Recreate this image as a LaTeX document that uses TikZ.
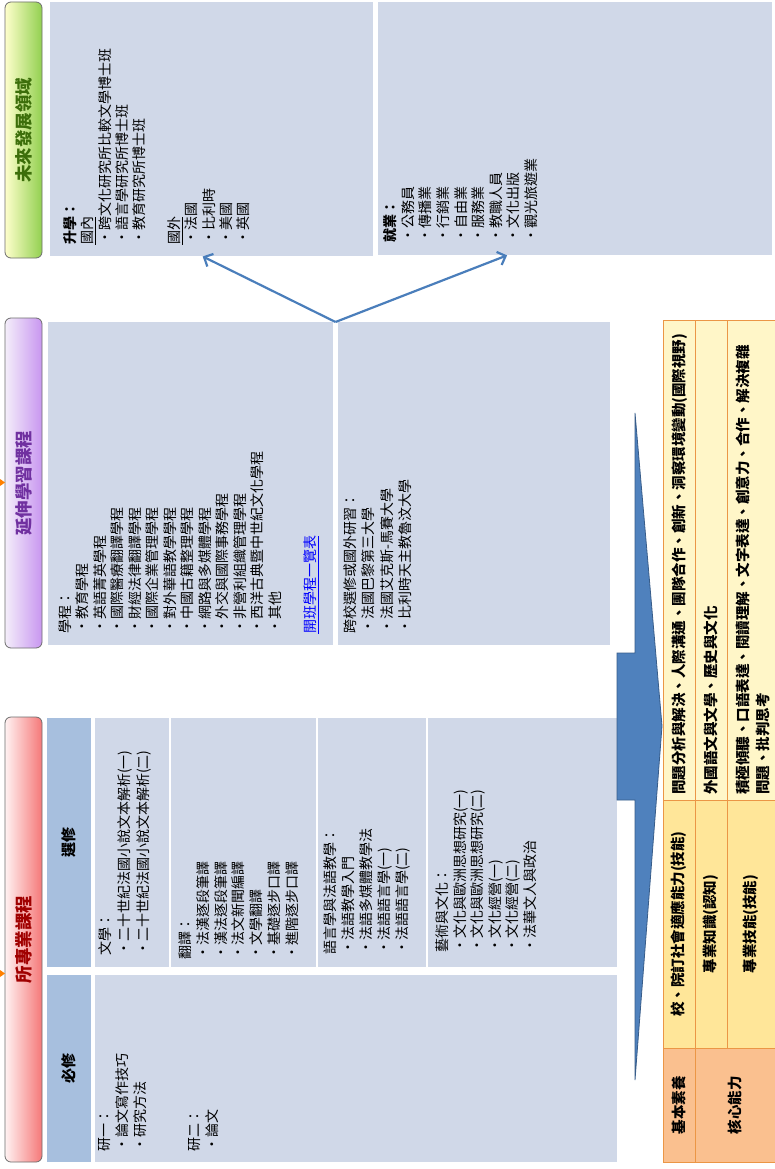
\documentclass[tikz,border=0pt]{standalone}
\usepackage{fontspec}
\setmainfont{Noto Sans CJK TC}
\usetikzlibrary{arrows.meta,calc}
\definecolor{lbox}{RGB}{208,216,232}
\definecolor{hbox}{RGB}{167,191,222}
\definecolor{arrowblue}{RGB}{79,129,189}
\definecolor{arrowedge}{RGB}{56,93,138}
\definecolor{connblue}{RGB}{74,126,187}
\definecolor{tyellow}{RGB}{255,246,200}
\definecolor{tgold}{RGB}{255,230,153}
\definecolor{torange}{RGB}{250,192,143}
\definecolor{tborder}{RGB}{235,150,70}
\definecolor{greenL}{RGB}{255,255,204}
\definecolor{greenR}{RGB}{146,208,80}
\definecolor{greenT}{RGB}{60,110,10}
\definecolor{purpL}{RGB}{244,238,250}
\definecolor{purpR}{RGB}{200,150,240}
\definecolor{purpT}{RGB}{112,48,160}
\definecolor{redL}{RGB}{255,242,242}
\definecolor{redR}{RGB}{245,120,120}
\definecolor{redT}{RGB}{160,0,0}
\definecolor{linkblue}{RGB}{0,0,255}
\definecolor{pillborder}{RGB}{110,110,110}
\begin{document}
\begin{tikzpicture}[x=1pt,y=-1pt,
  boxwh/.style 2 args={minimum width=#1pt, minimum height=#2pt},
  region/.style={fill=lbox, draw=none, inner sep=0pt, outer sep=0pt, anchor=north west},
  hdrbox/.style={fill=hbox, draw=none, inner sep=0pt, outer sep=0pt, anchor=north west},
  pill/.style={draw=pillborder, line width=0.8pt, rounded corners=6pt, inner sep=0pt, outer sep=0pt, anchor=north west},
  pilltxt/.style={rotate=90, inner sep=0pt, font=\bfseries\fontsize{17.5}{20}\selectfont},
  subhdr/.style={rotate=90, inner sep=0pt, font=\bfseries\fontsize{15}{18}\selectfont},
  txt/.style={rotate=90, anchor=north west, align=left, inner sep=0pt, font=\fontsize{14}{17.6}\selectfont},
  cell/.style={draw=tborder, line width=0.8pt, inner sep=0pt, outer sep=0pt, anchor=north west},
  ttxt/.style={rotate=90, inner sep=0pt, font=\bfseries\fontsize{14.5}{19}\selectfont},
  ttxtL/.style={rotate=90, anchor=north west, align=left, inner sep=0pt, font=\bfseries\fontsize{14.5}{19.5}\selectfont},
  conn/.style={draw=connblue, line width=2.2pt, -{Straight Barb[length=7pt,width=14pt]}, shorten >=1pt}
]
\fill[white] (0,0) rectangle (775,1169);
\useasboundingbox (0,0) rectangle (775,1169);

% ---------- header pills ----------
\node[pill, left color=greenL, right color=greenR, boxwh={37}{256}] (pFuture) at (5,2) {};
\node[pilltxt, text=greenT] (pFutureT) at (pFuture.center) {未來發展領域};
\node[pill, left color=purpL, right color=purpR, boxwh={37}{330}] (pExt) at (5,318) {};
\node[pilltxt, text=purpT] (pExtT) at (pExt.center) {延伸學習課程};
\node[pill, left color=redL, right color=redR, boxwh={37}{445}] (pPro) at (5,717) {};
\node[pilltxt, text=redT] (pProT) at (pPro.center) {所專業課程};
\fill[orange] (0,479) -- (5,482.5) -- (0,486) -- cycle;
\fill[orange] (0,970) -- (5,973.5) -- (0,977) -- cycle;

% ---------- future boxes ----------
\node[region, boxwh={323}{254}] (shengxue) at (50,2) {};
\node[region, boxwh={394}{253}] (jiuye) at (378,2) {};
\node[txt, font=\fontsize{14}{17.3}\selectfont] (shengxueT) at (63.5,245) {\textbf{升學：}\\
\underline{國內}\\
・跨文化研究所比較文學博士班\\
・語言學研究所博士班\\
・教育研究所博士班\\
\mbox{}\\
\underline{國外}\\
・法國\\
・比利時\\
・美國\\
・英國};
\node[txt, font=\fontsize{14}{17.6}\selectfont] (jiuyeT) at (383.5,243) {\textbf{就業：}\\
・公務員\\
・傳播業\\
・行銷業\\
・自由業\\
・服務業\\
・教職人員\\
・文化出版\\
・觀光旅遊業};

% ---------- extension boxes ----------
\node[region, boxwh={285}{323}] (xuecheng) at (48,322) {};
\node[region, boxwh={272}{323}] (kuaxiao) at (338,322) {};
\node[txt, font=\fontsize{14}{17.5}\selectfont] (xuechengT) at (58.5,634) {學程：\\
・教育學程\\
・英語菁英學程\\
・國際醫療翻譯學程\\
・財經法律翻譯學程\\
・國際企業管理學程\\
・對外華語教學學程\\
・中國古籍整理學程\\
・網路與多媒體學程\\
・外交與國際事務學程\\
・非營利組織管理學程\\
・西洋古典暨中世紀文化學程\\
・其他\\
\mbox{}\\
{\color{linkblue}\underline{開班學程一覽表}}};
\node[txt, font=\fontsize{14}{18.3}\selectfont] (kuaxiaoT) at (343.5,634) {跨校選修或國外研習：\\
・法國巴黎第三大學\\
・法國艾克斯-馬賽大學\\
・比利時天主教魯汶大學};

% ---------- connectors ----------
\coordinate (fork) at ($(xuecheng.north east)!0.5!(kuaxiao.north west)$);
\draw[conn] (fork) -- ($(shengxue.south west)!0.47!(shengxue.south east)$);
\draw[conn] (fork) -- ($(jiuye.south west)!0.33!(jiuye.south east)$);

% ---------- professional courses ----------
\node[hdrbox, boxwh={44}{249}] (xuanxiuH) at (47,718) {};
\node[subhdr] (xuanxiuHT) at (xuanxiuH.center) {選修};
\node[hdrbox, boxwh={44}{187}] (bixiuH) at (47,975) {};
\node[subhdr] (bixiuHT) at (bixiuH.center) {必修};

\node[region, boxwh={522}{187}] (bixiu) at (95,975) {};
\node[region, boxwh={74}{249}] (wenxue) at (95,718) {};
\node[region, boxwh={145}{249}] (fanyi) at (171,718) {};
\node[region, boxwh={108}{249}] (yuyan) at (318,718) {};
\node[region, boxwh={189}{249}] (yishu) at (428,718) {};

\node[txt, font=\fontsize{14}{18}\selectfont] (bixiuT) at (98.5,1152) {研一：\\
・論文寫作技巧\\
・研究方法\\
\mbox{}\\
\mbox{}\\
研二：\\
・論文};
\node[txt, font=\fontsize{14}{19}\selectfont] (wenxueT) at (98.5,956) {文學：\\
・二十世紀法國小說文本解析(一)\\
・二十世紀法國小說文本解析(二)};
\node[txt, font=\fontsize{14}{17.8}\selectfont] (fanyiT) at (178.5,960) {翻譯：\\
・法漢逐段筆譯\\
・漢法逐段筆譯\\
・法文新聞編譯\\
・文學翻譯\\
・基礎逐步口譯\\
・進階逐步口譯};
\node[txt, font=\fontsize{14}{17.9}\selectfont] (yuyanT) at (323.5,955) {語言學與法語教學：\\
・法語教學入門\\
・法語多媒體教學法\\
・法語語言學(一)\\
・法語語言學(二)};
\node[txt, font=\fontsize{14}{17.6}\selectfont] (yishuT) at (435.5,953) {藝術與文化：\\
・文化與歐洲思想研究(一)\\
・文化與歐洲思想研究(二)\\
・文化經營(一)\\
・文化經營(二)\\
・法華文人與政治};

% ---------- big block arrow ----------
\filldraw[fill=arrowblue, draw=arrowedge, line width=0.8pt]
  (617,653) -- (635,653) -- (635,413) -- (662,726) -- (635,1080) -- (635,800) -- (617,800) -- cycle;

% ---------- competence table ----------
\node[cell, fill=tyellow, boxwh={32}{480}] (t31) at (663,320) {};
\node[cell, fill=tyellow, boxwh={32}{480}] (t32) at (695,320) {};
\node[cell, fill=tyellow, boxwh={48}{480}] (t33) at (727,320) {};
\node[cell, fill=tgold, boxwh={32}{248}] (t21) at (663,800) {};
\node[cell, fill=tgold, boxwh={32}{248}] (t22) at (695,800) {};
\node[cell, fill=tgold, boxwh={48}{248}] (t23) at (727,800) {};
\node[cell, fill=torange, boxwh={32}{114}] (t11) at (663,1048) {};
\node[cell, fill=torange, boxwh={80}{114}] (t12) at (695,1048) {};

\node[ttxt] (t11T) at (t11.center) {基本素養};
\node[ttxt] (t12T) at (t12.center) {核心能力};
\node[ttxt] (t21T) at (t21.center) {校、院訂社會適應能力(技能)};
\node[ttxt] (t22T) at (t22.center) {專業知識(認知)};
\node[ttxt] (t23T) at (t23.center) {專業技能(技能)};
\node[ttxtL] (t31T) at (672,795) {問題分析與解決、人際溝通、團隊合作、創新、洞察環境變動(國際視野)};
\node[ttxtL] (t32T) at (704,795) {外國語文與文學、歷史與文化};
\node[ttxtL] (t33T) at (736,795) {積極傾聽、口語表達、閱讀理解、文字表達、創意力、合作、解決複雜\\問題、批判思考};
\end{tikzpicture}
\end{document}
